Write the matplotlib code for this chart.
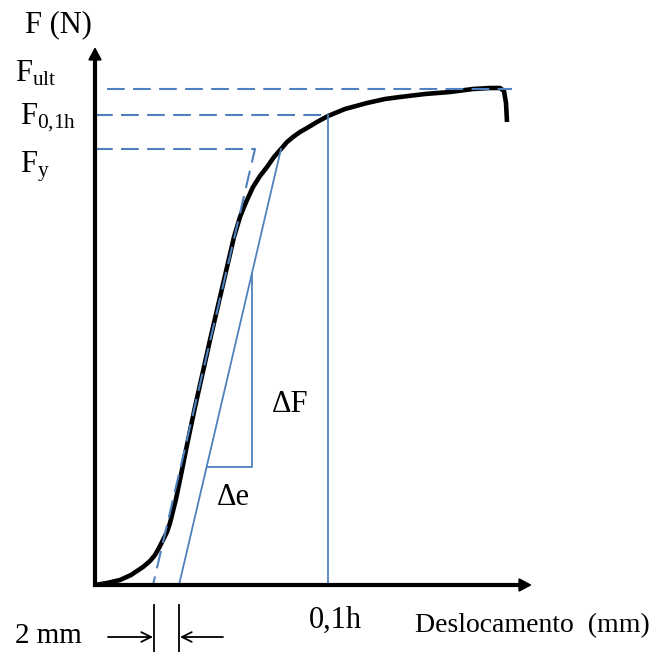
import numpy as np
import matplotlib.pyplot as plt

plt.rcParams['font.family'] = ['Liberation Serif', 'DejaVu Serif']
plt.rcParams['mathtext.fontset'] = 'custom'
plt.rcParams['mathtext.rm'] = 'Liberation Serif'
plt.rcParams['mathtext.it'] = 'Liberation Serif:italic'

# load-displacement curve (schematic units)
disp = [0, 12, 25, 36, 48, 55, 60, 64, 68, 72, 75, 78, 81, 87, 92, 100, 109, 115, 129,
        139, 145, 149, 152, 158, 165, 172, 179, 186, 192, 198, 205, 212, 222, 233,
        250, 272, 290, 305, 330, 355, 378, 395, 405, 409, 411, 412]
force = [0, 2, 5, 10, 18, 24, 30, 37, 45, 53, 62, 74, 86, 115, 140, 178, 218, 245, 305,
         348, 368, 378, 385, 398, 409, 418, 428, 436, 443, 448, 453, 457, 463, 469,
         476, 482, 486, 488, 491, 493, 496, 497, 497, 494, 482, 463]

F_y = 436
F_01h = 470
F_ult = 496
disp_01h = 233
F_ult_end = 417

# elastic tangent and the line shifted by 2 mm
tangent_x0 = 58
tangent_top = 160
offset_2mm = 26
dF_range = [118, 312]

blue = '#4f81bd'
dash = (0, (8.5, 4))

fig = plt.figure(figsize=(6.65, 6.52), dpi=100)
ax = fig.add_axes([0, 0, 1, 1])
ax.set_xlim(-95, 570)
ax.set_ylim(-67, 585)
ax.axis('off')

slope = F_y / (tangent_top - tangent_x0)


def on_offset(f):
    return tangent_x0 + offset_2mm + f / slope


# curve
ax.plot(disp, force, color='black', lw=3.3, solid_joinstyle='round',
        solid_capstyle='butt', zorder=3)

# dashed reference lines
ax.plot([0, tangent_top, tangent_x0], [F_y, F_y, 0], color=blue, lw=1.5,
        linestyle=dash, zorder=4)
ax.plot([0, disp_01h], [F_01h, F_01h], color=blue, lw=1.5, linestyle=dash, zorder=4)
ax.plot([12, F_ult_end], [F_ult, F_ult], color=blue, lw=1.5, linestyle=dash, zorder=4)

# offset line, 0.1h line and the stiffness triangle
ax.plot([on_offset(0), on_offset(F_y)], [0, F_y], color=blue, lw=1.3, zorder=4)
ax.plot([disp_01h, disp_01h], [0, F_01h], color=blue, lw=1.3, zorder=4)
xa, xb = on_offset(dF_range[0]), on_offset(dF_range[1])
ax.plot([xa, xb, xb], [dF_range[0], dF_range[0], dF_range[1]], color=blue, lw=1.3, zorder=4)

# axes
ax.plot([0, 0, 428], [528, 0, 0], color='black', lw=3, solid_joinstyle='miter',
        solid_capstyle='butt', zorder=5)
head = dict(arrowstyle='-|>,head_length=0.75,head_width=0.4', color='black', lw=1.5,
            shrinkA=0, shrinkB=0)
ax.annotate('', xy=(0, 538), xytext=(0, 518), arrowprops=head, zorder=5)
ax.annotate('', xy=(437, 0), xytext=(418, 0), arrowprops=head, zorder=5)

# 2 mm dimension
for xv in [tangent_x0 + 1, tangent_x0 + offset_2mm]:
    ax.plot([xv, xv], [-20, -67], color='black', lw=1.3)
dim = dict(arrowstyle='->,head_length=0.7,head_width=0.35', color='black', lw=1.3,
           shrinkA=0, shrinkB=0)
ax.annotate('', xy=(tangent_x0, -52), xytext=(13, -52), arrowprops=dim)
ax.annotate('', xy=(tangent_x0 + offset_2mm + 1, -52), xytext=(128, -52), arrowprops=dim)

fs = 22
ax.text(-70, 553, 'F (N)', fontsize=fs, va='baseline')
ax.text(-80, 503, r'$\mathrm{F_{ult}}$', fontsize=fs, va='baseline')
ax.text(-75, 461, r'$\mathrm{F_{0{,}1h}}$', fontsize=fs, va='baseline')
ax.text(-75, 413, r'$\mathrm{F_y}$', fontsize=fs, va='baseline')
ax.text(177, 173, 'ΔF', fontsize=fs, va='baseline')
ax.text(122, 80, 'Δe', fontsize=fs, va='baseline')
ax.text(240, -43, '0,1h', fontsize=fs, va='baseline', ha='center')
ax.text(320, -47, 'Deslocamento  (mm)', fontsize=20, va='baseline')
ax.text(-80, -58, '2 mm', fontsize=21, va='baseline')

fig.savefig('out.png', dpi=100)
